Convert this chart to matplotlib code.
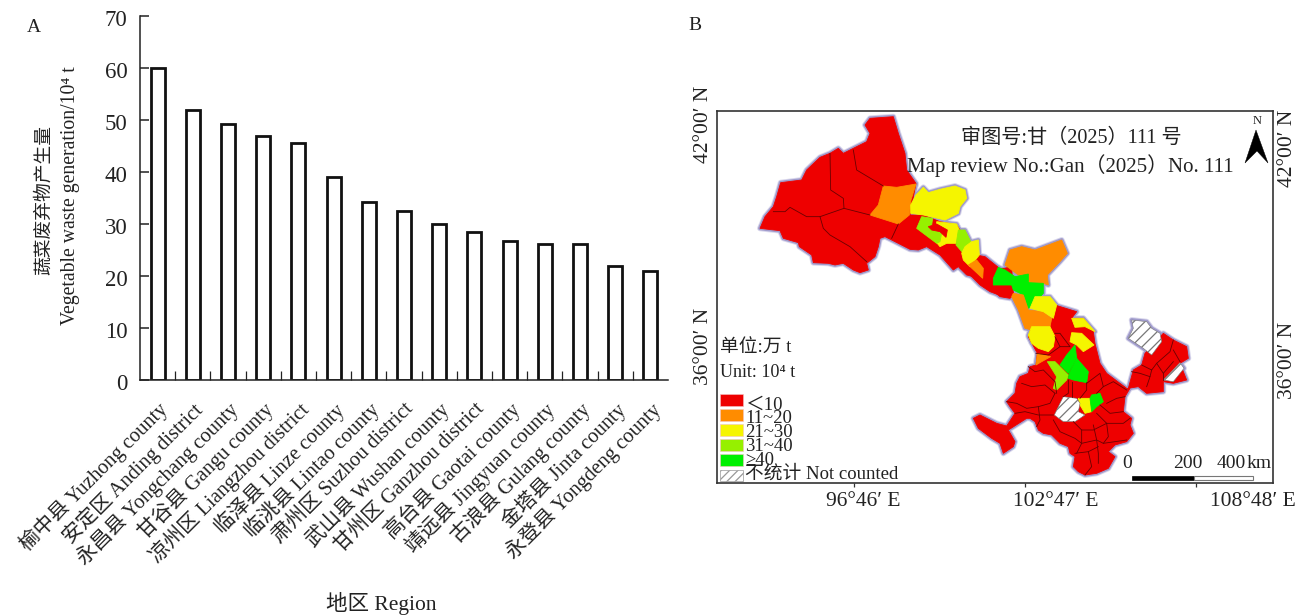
import matplotlib
matplotlib.use("Agg")
import matplotlib.pyplot as plt
from matplotlib.patches import Polygon, Rectangle
from matplotlib.transforms import ScaledTranslation

W, H = 1308, 616
FONT = ['Liberation Serif', 'Noto Sans CJK SC', 'DejaVu Sans']
plt.rcParams['font.family'] = FONT
plt.rcParams['hatch.linewidth'] = 0.9
plt.rcParams['hatch.color'] = '#8a8a8a'
INK = '#222222'

# ---- panel A data
regions = ['榆中县 Yuzhong county', '安定区 Anding district', '永昌县 Yongchang county',
           '甘谷县 Gangu county', '凉州区 Liangzhou district', '临泽县 Linze county',
           '临洮县 Lintao county', '肃州区 Suzhou district', '武山县 Wushan county',
           '甘州区 Ganzhou district', '高台县 Gaotai county', '靖远县 Jingyuan county',
           '古浪县 Gulang county', '金塔县 Jinta county', '永登县 Yongdeng county']
waste = [60, 52, 49.3, 47, 45.6, 39, 34.3, 32.5, 30, 28.5, 26.8, 26.2, 26.2, 22, 21]
yticks = [0, 10, 20, 30, 40, 50, 60, 70]

# ---- panel B data: hand-traced map outlines (crop coordinates, see to_map)
RED, ORANGE, YELLOW, LIME, GREEN = '#EE0000', '#FF8C00', '#F5F500', '#96F000', '#00F000'
F1, F2 = (710, 100), (960, 230)

west_red = [(150,385),(165,350),(190,320),(200,290),(212,248),(275,240),(290,210),(330,172),(360,160),
            (385,145),(400,160),(430,145),(470,125),(480,100),(465,75),(480,55),(550,50),(565,100),
            (585,160),(590,210),(618,250),(600,345),(640,345),(690,365),(740,375),(800,465),(830,480),
            (860,510),(905,500),(910,585),(900,595),(870,590),(835,560),(810,535),(770,525),(745,500),
            (730,510),(690,465),(650,440),(625,450),(600,448),(545,420),(525,410),(510,415),(505,440),
            (495,470),(470,490),(475,510),(450,518),(430,510),(400,490),(375,495),(355,490),(310,488),
            (305,465),(268,440),(265,428),(220,415),(210,392),(175,388)]
west_orange = [(520,258),(560,262),(618,252),(603,300),(598,345),(565,372),(480,345),(505,315)]
north_yellow = [(618,285),(640,262),(655,278),(690,268),(735,258),(765,270),(770,295),(750,320),(745,340),
                (705,360),(640,345),(602,340),(602,315)]
lime_a = [(635,350),(668,355),(665,375),(695,400),(690,425),(680,430),(620,385)]
red_in = [(655,380),(680,372),(712,390),(708,412),(690,395),(665,390)]
yellow_a = [(680,365),(740,372),(750,395),(738,430),(710,430),(690,440),(680,428),(695,400),(708,412),(712,390),(680,372)]
lime_b = [(745,390),(765,390),(785,430),(765,440),(760,460),(738,435)]
yellow_b = [(785,425),(805,420),(808,465),(780,500),(760,480),(755,460),(765,440)]
orange_a = [(800,480),(820,505),(818,535),(775,495)]

mid_red = [(50,75),(75,80),(115,112),(100,165),(155,165),(160,190),(155,200),(130,200),(90,185),(60,165),(20,125),(0,115)]
ne_orange = [(150,60),(185,50),(225,60),(305,30),(322,70),(300,95),(262,135),(265,165),(250,160),(205,157),
             (205,135),(175,135),(135,105)]
mid_green = [(115,112),(135,120),(165,140),(205,132),(205,158),(250,160),(250,190),(215,230),(205,235),(190,195),
             (160,180),(155,165),(100,165),(100,145)]
col_orange = [(160,190),(190,195),(205,240),(250,245),(275,265),(270,290),(240,290),(215,300),(195,295),(175,240),(155,200)]
col_yellow = [(225,200),(270,200),(290,225),(280,265),(250,245),(210,235)]
col_red = [(285,225),(350,245),(335,265),(370,265),(400,305),(405,340),(420,400),(440,430),(500,475),(510,475),
           (495,500),(490,545),(515,565),(510,585),(520,610),(500,635),(465,645),(445,665),(465,680),(445,715),
           (410,730),(375,735),(355,725),(340,710),(345,680),(330,670),(325,650),(300,640),(275,615),(250,610),
           (235,600),(225,575),(210,565),(200,565),(145,600),(165,635),(160,650),(130,670),(120,640),(95,625),
           (55,595),(40,565),(60,555),(110,580),(140,588),(165,550),(150,530),(140,515),(165,490),(170,460),
           (180,440),(205,430),(210,410),(228,405),(232,370),(205,320),(215,290),(270,290)]
yellow_c = [(215,290),(270,290),(285,320),(280,350),(265,365),(235,355),(215,340),(205,315)]
yellow_d = [(335,265),(370,265),(405,305),(375,290),(345,292)]
yellow_e = [(335,308),(365,310),(402,345),(370,365),(350,345),(330,335)]
orange_b = [(232,370),(272,380),(245,395),(228,405)]
lime_c = [(262,395),(285,395),(325,435),(320,450),(290,480),(280,475),(290,440)]
green_a = [(345,345),(350,385),(325,430),(300,405),(320,375)]
green_b = [(350,385),(385,425),(380,458),(340,450),(325,445),(328,430)]
east_red = [(505,475),(520,420),(545,405),(555,370),(610,310),(640,330),(680,350),(685,385),(660,400),(680,450),
            (640,460),(610,455),(610,485),(560,490),(535,470)]
hatch_n = [(515,270),(560,275),(575,295),(600,310),(605,335),(575,375),(550,355),(505,325),(520,295)]
hatch_e = [(660,398),(672,415),(640,455),(610,450)]
hatch_s = [(310,500),(350,505),(360,520),(355,545),(375,555),(345,575),(310,575),(283,555),(300,520)]
yellow_f = [(355,505),(390,505),(395,545),(375,550),(360,525)]
green_c = [(395,495),(420,490),(430,515),(410,530),(395,545),(390,505)]

map_shapes = [(west_red, F1, RED), (mid_red, F2, RED), (col_red, F2, RED), (east_red, F2, RED),
              (west_orange, F1, ORANGE), (north_yellow, F1, YELLOW), (yellow_a, F1, YELLOW), (lime_a, F1, LIME),
              (red_in, F1, RED), (lime_b, F1, LIME), (yellow_b, F1, YELLOW), (orange_a, F1, ORANGE),
              (ne_orange, F2, ORANGE), (mid_green, F2, GREEN),
              (col_orange, F2, ORANGE), (col_yellow, F2, YELLOW), (yellow_c, F2, YELLOW), (yellow_d, F2, YELLOW),
              (yellow_e, F2, YELLOW), (orange_b, F2, ORANGE), (lime_c, F2, LIME), (green_a, F2, GREEN), (green_b, F2, GREEN),
              (yellow_f, F2, YELLOW), (green_c, F2, GREEN)]
hatched = [(hatch_n, F2), (hatch_e, F2), (hatch_s, F2)]

county_lines = [
    (F1, [(360,160),(362,270),(400,295),(402,325)]),
    (F1, [(430,150),(440,210),(490,240),(520,258)]),
    (F1, [(190,335),(225,335),(240,322),(290,350),(330,350),(402,325),(480,345)]),
    (F1, [(330,350),(340,385),(360,405),(420,440),(470,485)]),
    (F1, [(565,372),(545,415)]),
    (F2, [(205,410),(225,425),(250,420),(285,455),(290,490)]),
    (F2, [(185,460),(215,470),(255,465),(285,490)]),
    (F2, [(140,515),(170,520),(200,535),(235,530),(270,520),(285,490)]),
    (F2, [(165,550),(195,545),(235,555),(280,555)]),
    (F2, [(235,530),(240,570),(230,590)]),
    (F2, [(280,570),(300,605),(345,625),(365,640),(350,670)]),
    (F2, [(340,575),(365,600),(400,600),(440,580),(490,580),(510,565)]),
    (F2, [(365,600),(365,640),(410,630),(430,640),(500,630)]),
    (F2, [(400,585),(410,630),(415,670),(415,700)]),
    (F2, [(440,580),(445,620),(430,640)]),
    (F2, [(345,670),(385,665),(415,650)]),
    (F2, [(385,665),(395,710),(375,735)]),
    (F2, [(325,450),(325,490),(310,500)]),
    (F2, [(335,455),(335,500)]),
    (F2, [(380,458),(380,480),(360,505)]),
    (F2, [(380,460),(420,430),(430,470),(410,490)]),
    (F2, [(430,470),(460,455),(500,480)]),
    (F2, [(440,520),(470,505),(495,500)]),
    (F2, [(420,525),(450,550),(490,545)]),
    (F2, [(410,550),(440,580)]),
    (F2, [(545,405),(575,420),(590,400),(630,365),(640,330)]),
    (F2, [(575,420),(570,440),(540,430),(515,425)]),
    (F2, [(570,440),(560,470)]),
    (F2, [(590,400),(610,430),(640,395)]),
    (F2, [(610,450),(610,430)]),
    (F2, [(640,360),(660,395)]),
    (F2, [(285,320),(300,350),(330,350),(300,310),(285,310)]),
    (F2, [(300,350),(265,375),(228,370)]),
]
legend_colors = [RED, ORANGE, YELLOW, LIME, GREEN]
legend_labels = ['＜10', '11~20', '21~30', '31~40', '≥40', '不统计 Not counted']
lon_labels = ['96°46′ E', '102°47′ E', '108°48′ E']


def to_map(points, frame):
    return [(frame[0] + x / 3, frame[1] + y / 3) for x, y in points]


fig = plt.figure(figsize=(W / 100, H / 100), dpi=100, facecolor='white')


def ftext(x, y, s, **kw):
    kw.setdefault('fontsize', 15.5)
    kw.setdefault('color', INK)
    kw.setdefault('ha', 'center')
    kw.setdefault('va', 'center')
    if kw.get('rotation') == 90:
        x += 3
    else:
        y += 2
    fig.text(x / W, 1 - y / H, s, **kw)


# ---------- Panel A
ax = fig.add_axes([140 / W, 1 - 380 / H, 528 / W, 364 / H])
ax.bar(range(len(waste)), waste, width=0.4, facecolor='white', edgecolor='#111111', linewidth=2.0)
ax.set_xlim(-0.5, len(waste) - 0.5)
ax.set_ylim(0, 70)
ax.set_yticks(yticks)
ax.tick_params(axis='y', direction='in', length=6.5, width=1.1, labelsize=16.5, pad=9, color=INK, labelcolor=INK)
shift = ScaledTranslation(0, -1.5 / 100, fig.dpi_scale_trans)
for lab in ax.get_yticklabels():
    lab.set_transform(lab.get_transform() + shift)
ax.set_xticks([i + 0.5 for i in range(len(waste) - 1)])
ax.set_xticklabels([])
ax.tick_params(axis='x', direction='in', length=6.5, width=0.9, color=INK)
for s in ('top', 'right'):
    ax.spines[s].set_visible(False)
for s in ('left', 'bottom'):
    ax.spines[s].set_linewidth(1.1)
    ax.spines[s].set_color(INK)
for i, lab in enumerate(regions):
    ax.annotate(lab, (i, 0), xytext=(5, -19), textcoords='offset points', rotation=45,
                rotation_mode='anchor', ha='right', va='center', fontsize=14.8, color=INK, annotation_clip=False)

ftext(41, 200, '蔬菜废弃物产生量', rotation=90, fontsize=13.5)
ftext(68, 196, 'Vegetable waste generation/10⁴ t', rotation=90, fontsize=14.2)
ftext(381, 601, '地区 Region', fontsize=15.5)
ftext(34, 26, 'A', fontsize=14)
ftext(695, 24, 'B', fontsize=14)

# ---------- Panel B
mx = fig.add_axes([717 / W, 1 - 483 / H, 556 / W, 372 / H])
mx.set_xlim(717, 1273)
mx.set_ylim(483, 111)
for s in mx.spines.values():
    s.set_linewidth(1.2)
    s.set_color('#333333')
mx.set_xticks([854, 1025, 1196])
mx.set_xticklabels([])
mx.set_yticks([])
mx.tick_params(axis='x', length=3, width=0.9, color='#333333')

outlines = [(p, f) for p, f, _ in map_shapes] + hatched
for pts, frame in outlines:
    mx.add_patch(Polygon(to_map(pts, frame), closed=True, facecolor='none', edgecolor='#D8D6EC', linewidth=4.2, joinstyle='round', zorder=1))
for pts, frame in outlines:
    mx.add_patch(Polygon(to_map(pts, frame), closed=True, facecolor='none', edgecolor='#A09BCC', linewidth=2.8, joinstyle='round', zorder=2))
for pts, frame, color in map_shapes:
    mx.add_patch(Polygon(to_map(pts, frame), closed=True, facecolor=color, edgecolor=color, linewidth=0.6, zorder=3))
for pts, frame in hatched:
    mx.add_patch(Polygon(to_map(pts, frame), closed=True, facecolor='white', edgecolor='#777777', hatch='///', linewidth=0.4, zorder=4))
for frame, pts in county_lines:
    p = to_map(pts, frame)
    mx.plot([q[0] for q in p], [q[1] for q in p], color='#6a0000', linewidth=0.6, zorder=5)


def mtext(x, y, s, **kw):
    kw.setdefault('fontsize', 15)
    kw.setdefault('color', INK)
    kw.setdefault('ha', 'left')
    kw.setdefault('va', 'center')
    mx.text(x, y + 2, s, zorder=8, **kw)


mtext(1071, 136, '审图号:甘（2025）111 号', ha='center', fontsize=14.5)
mtext(1070, 164, 'Map review No.:Gan（2025）No. 111', ha='center', fontsize=15)
mtext(1257, 119, 'N', ha='center', fontsize=9)
mx.add_patch(Polygon([(1256, 130), (1268, 163), (1257, 151), (1245, 163)], closed=True, facecolor='black', edgecolor='black', linewidth=0.3, zorder=8))

mtext(720, 346, '单位:万 t', fontsize=13.5)
mtext(720, 371, 'Unit: 10⁴ t', fontsize=13)
for i, c in enumerate(legend_colors):
    mx.add_patch(Rectangle((720, 394 + 15 * i), 23, 12, facecolor=c, edgecolor='#f5c0c0', linewidth=0.4, zorder=6))
mx.add_patch(Rectangle((720, 470), 23, 11, facecolor='white', edgecolor='#999999', hatch='////', linewidth=0.5, zorder=6))
for i, lab in enumerate(legend_labels):
    mtext(745, 403 + 13.8 * i, lab, fontsize=13.5)

mx.add_patch(Rectangle((1132, 476), 62, 4, facecolor='black', edgecolor='black', linewidth=0.5, zorder=8))
mx.add_patch(Rectangle((1194, 476), 59, 4, facecolor='white', edgecolor='#777777', linewidth=0.8, zorder=8))
mtext(1127, 462, '0', ha='center', fontsize=14)
mtext(1188, 462, '200', ha='center', fontsize=14)
mtext(1231, 462, '400', ha='center', fontsize=14)
mtext(1259, 462, 'km', ha='center', fontsize=14)

for x, s in zip([863, 1056, 1253], lon_labels):
    ftext(x, 499, s)
ftext(700, 124, '42°00′ N', rotation=90)
ftext(700, 346, '36°00′ N', rotation=90)
ftext(1285, 148, '42°00′ N', rotation=90)
ftext(1285, 360, '36°00′ N', rotation=90)

fig.savefig('out.png', dpi=100)
